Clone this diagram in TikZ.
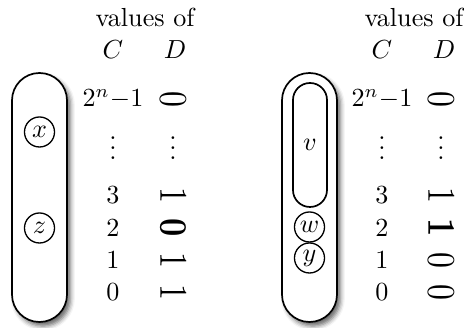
\documentclass[tikz,border=0pt]{standalone}
\usetikzlibrary{shadows.blur}
\newcommand{\rdig}[1]{\rotatebox{-90}{\scalebox{1.22}[1.5]{$#1$}}}
\newcommand{\mydots}{\smash{$\vdots$}}
\begin{document}
\begin{tikzpicture}[x=0.383pt,y=-0.383pt,
  groupbox/.style={draw,line width=0.65pt,rounded corners=10.5pt,fill=white,
    blur shadow={shadow xshift=1.3pt,shadow yshift=-1.6pt,shadow blur radius=1.7pt,shadow opacity=60}},
  innerbox/.style={draw,line width=0.65pt,rounded corners=6.5pt},
  var/.style={draw,circle,line width=0.5pt,minimum size=11.5pt,inner sep=0pt},
  lbl/.style={inner sep=0pt,anchor=center},
  dotsl/.style={inner sep=0pt,anchor=base},
  rot/.style={inner sep=0pt,anchor=center}]
\useasboundingbox (0,0) rectangle (464,328);
% left diagram
\node[groupbox,minimum width=55*0.383pt,minimum height=249*0.383pt,inner sep=0pt] (L) at (39.5,197.5) {};
\node[var] (x) at (39.5,132) {$x$};
\node[var] (z) at (39.5,228) {$z$};
\node[lbl] (lv) at (145,17) {values of};
\node[lbl] (lC) at (113,50) {$C$};
\node[lbl] (lD) at (175,50) {$D$};
\node[lbl] (lc0) at (113,99) {$2^n{-}1$};
\node[dotsl] (lc1) at (113,160) {\mydots};
\node[lbl] (lc2) at (113,195) {$3$};
\node[lbl] (lc3) at (113,228) {$2$};
\node[lbl] (lc4) at (113,260) {$1$};
\node[lbl] (lc5) at (113,292) {$0$};
\node[rot] (ld0) at (173,99) {\rdig{0}};
\node[dotsl] (ld1) at (173,160) {\mydots};
\node[rot] (ld2) at (173,195) {\rdig{1}};
\node[rot] (ld3) at (173,228) {\rdig{\mathbf{0}}};
\node[rot] (ld4) at (173,260) {\rdig{1}};
\node[rot] (ld5) at (173,292) {\rdig{1}};
% right diagram
\node[groupbox,minimum width=55*0.383pt,minimum height=249*0.383pt,inner sep=0pt] (R) at (309.5,197.5) {};
\node[innerbox,minimum width=34*0.383pt,minimum height=124*0.383pt,inner sep=0pt] (v) at (310,145) {$v$};
\node[var] (w) at (309.5,227) {$w$};
\node[var] (y) at (309.5,258) {$y$};
\node[lbl] (rv) at (414,17) {values of};
\node[lbl] (rC) at (382,50) {$C$};
\node[lbl] (rD) at (444,50) {$D$};
\node[lbl] (rc0) at (382,99) {$2^n{-}1$};
\node[dotsl] (rc1) at (382,160) {\mydots};
\node[lbl] (rc2) at (382,195) {$3$};
\node[lbl] (rc3) at (382,228) {$2$};
\node[lbl] (rc4) at (382,260) {$1$};
\node[lbl] (rc5) at (382,292) {$0$};
\node[rot] (rd0) at (441,99) {\rdig{0}};
\node[dotsl] (rd1) at (441,160) {\mydots};
\node[rot] (rd2) at (441,195) {\rdig{1}};
\node[rot] (rd3) at (441,228) {\rdig{\mathbf{1}}};
\node[rot] (rd4) at (441,260) {\rdig{0}};
\node[rot] (rd5) at (441,292) {\rdig{0}};
\end{tikzpicture}
\end{document}
